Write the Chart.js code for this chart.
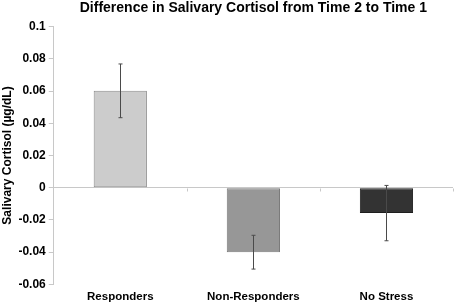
<!DOCTYPE html>
<html>
<head>
<meta charset="utf-8">
<script src="https://cdn.jsdelivr.net/npm/chart.js@4"></script>
<style>
  body { margin: 0; background: #fff; }
  #wrap { width: 454px; height: 302px; }
</style>
</head>
<body>
<div id="wrap"><canvas id="cortisolChart" width="454" height="302"></canvas></div>
<script>
// data
const groups = ['Responders', 'Non-Responders', 'No Stress'];
const meanDiff = [0.0602, -0.0401, -0.0158];
const errSize = [0.0167, 0.0105, 0.0172];
const barColors = ['#cccccc', '#979797', '#333333'];
const barEdges = ['#8a8a8a', '#7a7a7a', '#1e1e1e'];

const fontFam = '"Liberation Sans", Arial, sans-serif';

// error bars + category tick marks on the zero line
const errorBarPlugin = {
    id: 'errorBars',
    afterDatasetsDraw(chart) {
        const ctx = chart.ctx;
        const x = chart.scales.x;
        const y = chart.scales.y;
        ctx.save();
        ctx.strokeStyle = '#4a4a4a';
        ctx.lineWidth = 1;
        meanDiff.forEach((v, i) => {
            const px = Math.round(x.getPixelForValue(i)) + 0.5;
            const top = y.getPixelForValue(v + errSize[i]);
            const bot = y.getPixelForValue(v - errSize[i]);
            ctx.beginPath();
            ctx.moveTo(px, top);
            ctx.lineTo(px, bot);
            ctx.moveTo(px - 2, top);
            ctx.lineTo(px + 2, top);
            ctx.moveTo(px - 2, bot);
            ctx.lineTo(px + 2, bot);
            ctx.stroke();
        });
        // little ticks between categories
        const zero = Math.round(y.getPixelForValue(0)) + 0.5;
        ctx.strokeStyle = '#c8c8c8';
        for (let i = 0; i < groups.length; i++) {
            const bx = Math.round((x.getPixelForValue(i) + x.getPixelForValue(i + 1)) / 2) + 0.5;
            ctx.beginPath();
            ctx.moveTo(bx, zero);
            ctx.lineTo(bx, zero + 3);
            ctx.stroke();
        }
        ctx.restore();
    }
};

const ctx1 = document.getElementById('cortisolChart').getContext('2d');
new Chart(ctx1, {
    type: 'bar',
    data: {
        labels: groups,
        datasets: [{
            data: meanDiff,
            backgroundColor: barColors,
            borderColor: barEdges,
            borderWidth: 1,
            borderSkipped: false,
            categoryPercentage: 1,
            barPercentage: 0.4
        }]
    },
    options: {
        responsive: false,
        animation: false,
        layout: { padding: { left: 0, right: 1, top: 0, bottom: -8 } },
        plugins: {
            legend: { display: false },
            tooltip: { enabled: false },
            title: {
                display: true,
                fullSize: false,
                text: 'Difference in Salivary Cortisol from Time 2 to Time 1',
                color: '#000',
                font: { family: fontFam, size: 14, weight: 'bold' },
                padding: { top: 0, bottom: 10 }
            }
        },
        scales: {
            x: {
                grid: { display: false, drawTicks: false },
                border: { display: false },
                ticks: {
                    color: '#000',
                    padding: 6,
                    font: { family: fontFam, size: 11.5, weight: 'bold' }
                }
            },
            y: {
                min: -0.06,
                max: 0.1,
                border: { display: true, color: '#c8c8c8' },
                grid: {
                    color: c => (c.tick && Math.abs(c.tick.value) < 1e-9) ? '#c8c8c8' : 'rgba(0,0,0,0)',
                    tickColor: '#c8c8c8',
                    tickLength: 5
                },
                ticks: {
                    stepSize: 0.02,
                    color: '#000',
                    padding: 3,
                    font: { family: fontFam, size: 12, weight: 'bold' },
                    callback: v => String(Number(v.toFixed(2)))
                },
                title: {
                    display: true,
                    text: 'Salivary Cortisol (µg/dL)',
                    color: '#000',
                    font: { family: fontFam, size: 12, weight: 'bold' },
                    padding: { top: 0, bottom: 1 }
                }
            }
        }
    },
    plugins: [errorBarPlugin]
});
</script>
</body>
</html>
